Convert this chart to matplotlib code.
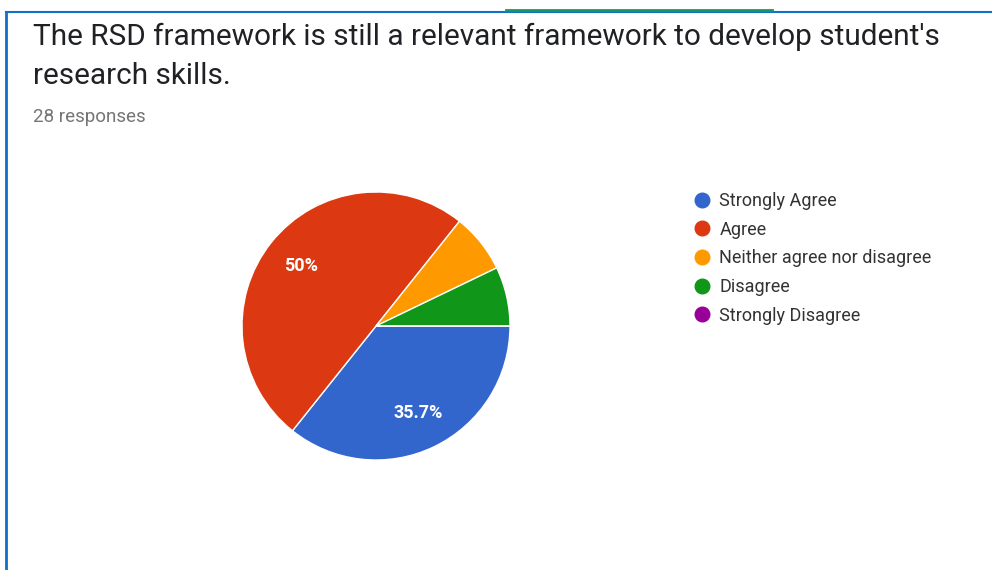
import matplotlib

matplotlib.use("Agg")
import matplotlib.pyplot as plt
from matplotlib.lines import Line2D

plt.rcParams["font.family"] = ["Roboto", "DejaVu Sans"]

# Google Forms survey result (28 responses)
categories = ["Strongly Agree", "Agree", "Neither agree nor disagree", "Disagree", "Strongly Disagree"]
counts = [10, 14, 2, 2, 0]
colors = ["#3366cc", "#dc3912", "#ff9900", "#109618", "#990099"]
title_lines = ["The RSD framework is still a relevant framework to develop student's", "research skills."]
subtitle = "28 responses"


def pct_label(p):
    # Forms only labels slices that are big enough
    return f"{p:.1f}%".replace(".0%", "%") if p > 10 else ""


fig = plt.figure(figsize=(9.92, 5.70), dpi=100)
W, H = 992, 570

# screenshot frame
fig.add_artist(Line2D([6 / W, 6 / W], [0, 1 - 12 / H], color="#1170c8", lw=2))
fig.add_artist(Line2D([6 / W, 1], [1 - 12 / H, 1 - 12 / H], color="#1170c8", lw=1.5))
fig.add_artist(Line2D([506 / W, 772 / W], [1 - 10 / H, 1 - 10 / H], color="#17985f", lw=2))

for i, line in enumerate(title_lines):
    fig.text(33 / W, 1 - (45 + 39 * i) / H, line, fontsize=21.4, color="#202124",
             ha="left", va="baseline")
fig.text(33 / W, 1 - 122 / H, subtitle, fontsize=13.5, color="#757575", ha="left", va="baseline")

cx, cy, r = 376, 326, 134
ax = fig.add_axes([(cx - r) / W, 1 - (cy + r) / H, 2 * r / W, 2 * r / H])
wedges, texts, autotexts = ax.pie(
    counts, colors=colors, startangle=0, counterclock=False, radius=1,
    autopct=pct_label, pctdistance=0.72,
    wedgeprops=dict(edgecolor="white", linewidth=1),
    textprops=dict(color="white", fontsize=13, fontweight="bold"),
)
ax.set_xlim(-1, 1)
ax.set_ylim(-1, 1)
ax.set_aspect("equal")
ax.axis("off")

handles = [Line2D([], [], marker="o", ls="", markersize=10.5, markerfacecolor=c, markeredgecolor=c)
           for c in colors]
fig.legend(handles, categories, loc="upper left", bbox_to_anchor=(695 / W, 1 - 192 / H),
           frameon=False, fontsize=13, labelcolor="#333333", handlelength=0.8,
           handletextpad=0.55, labelspacing=0.59, borderaxespad=0, borderpad=0)

fig.savefig("out.png", dpi=100, facecolor="white")
